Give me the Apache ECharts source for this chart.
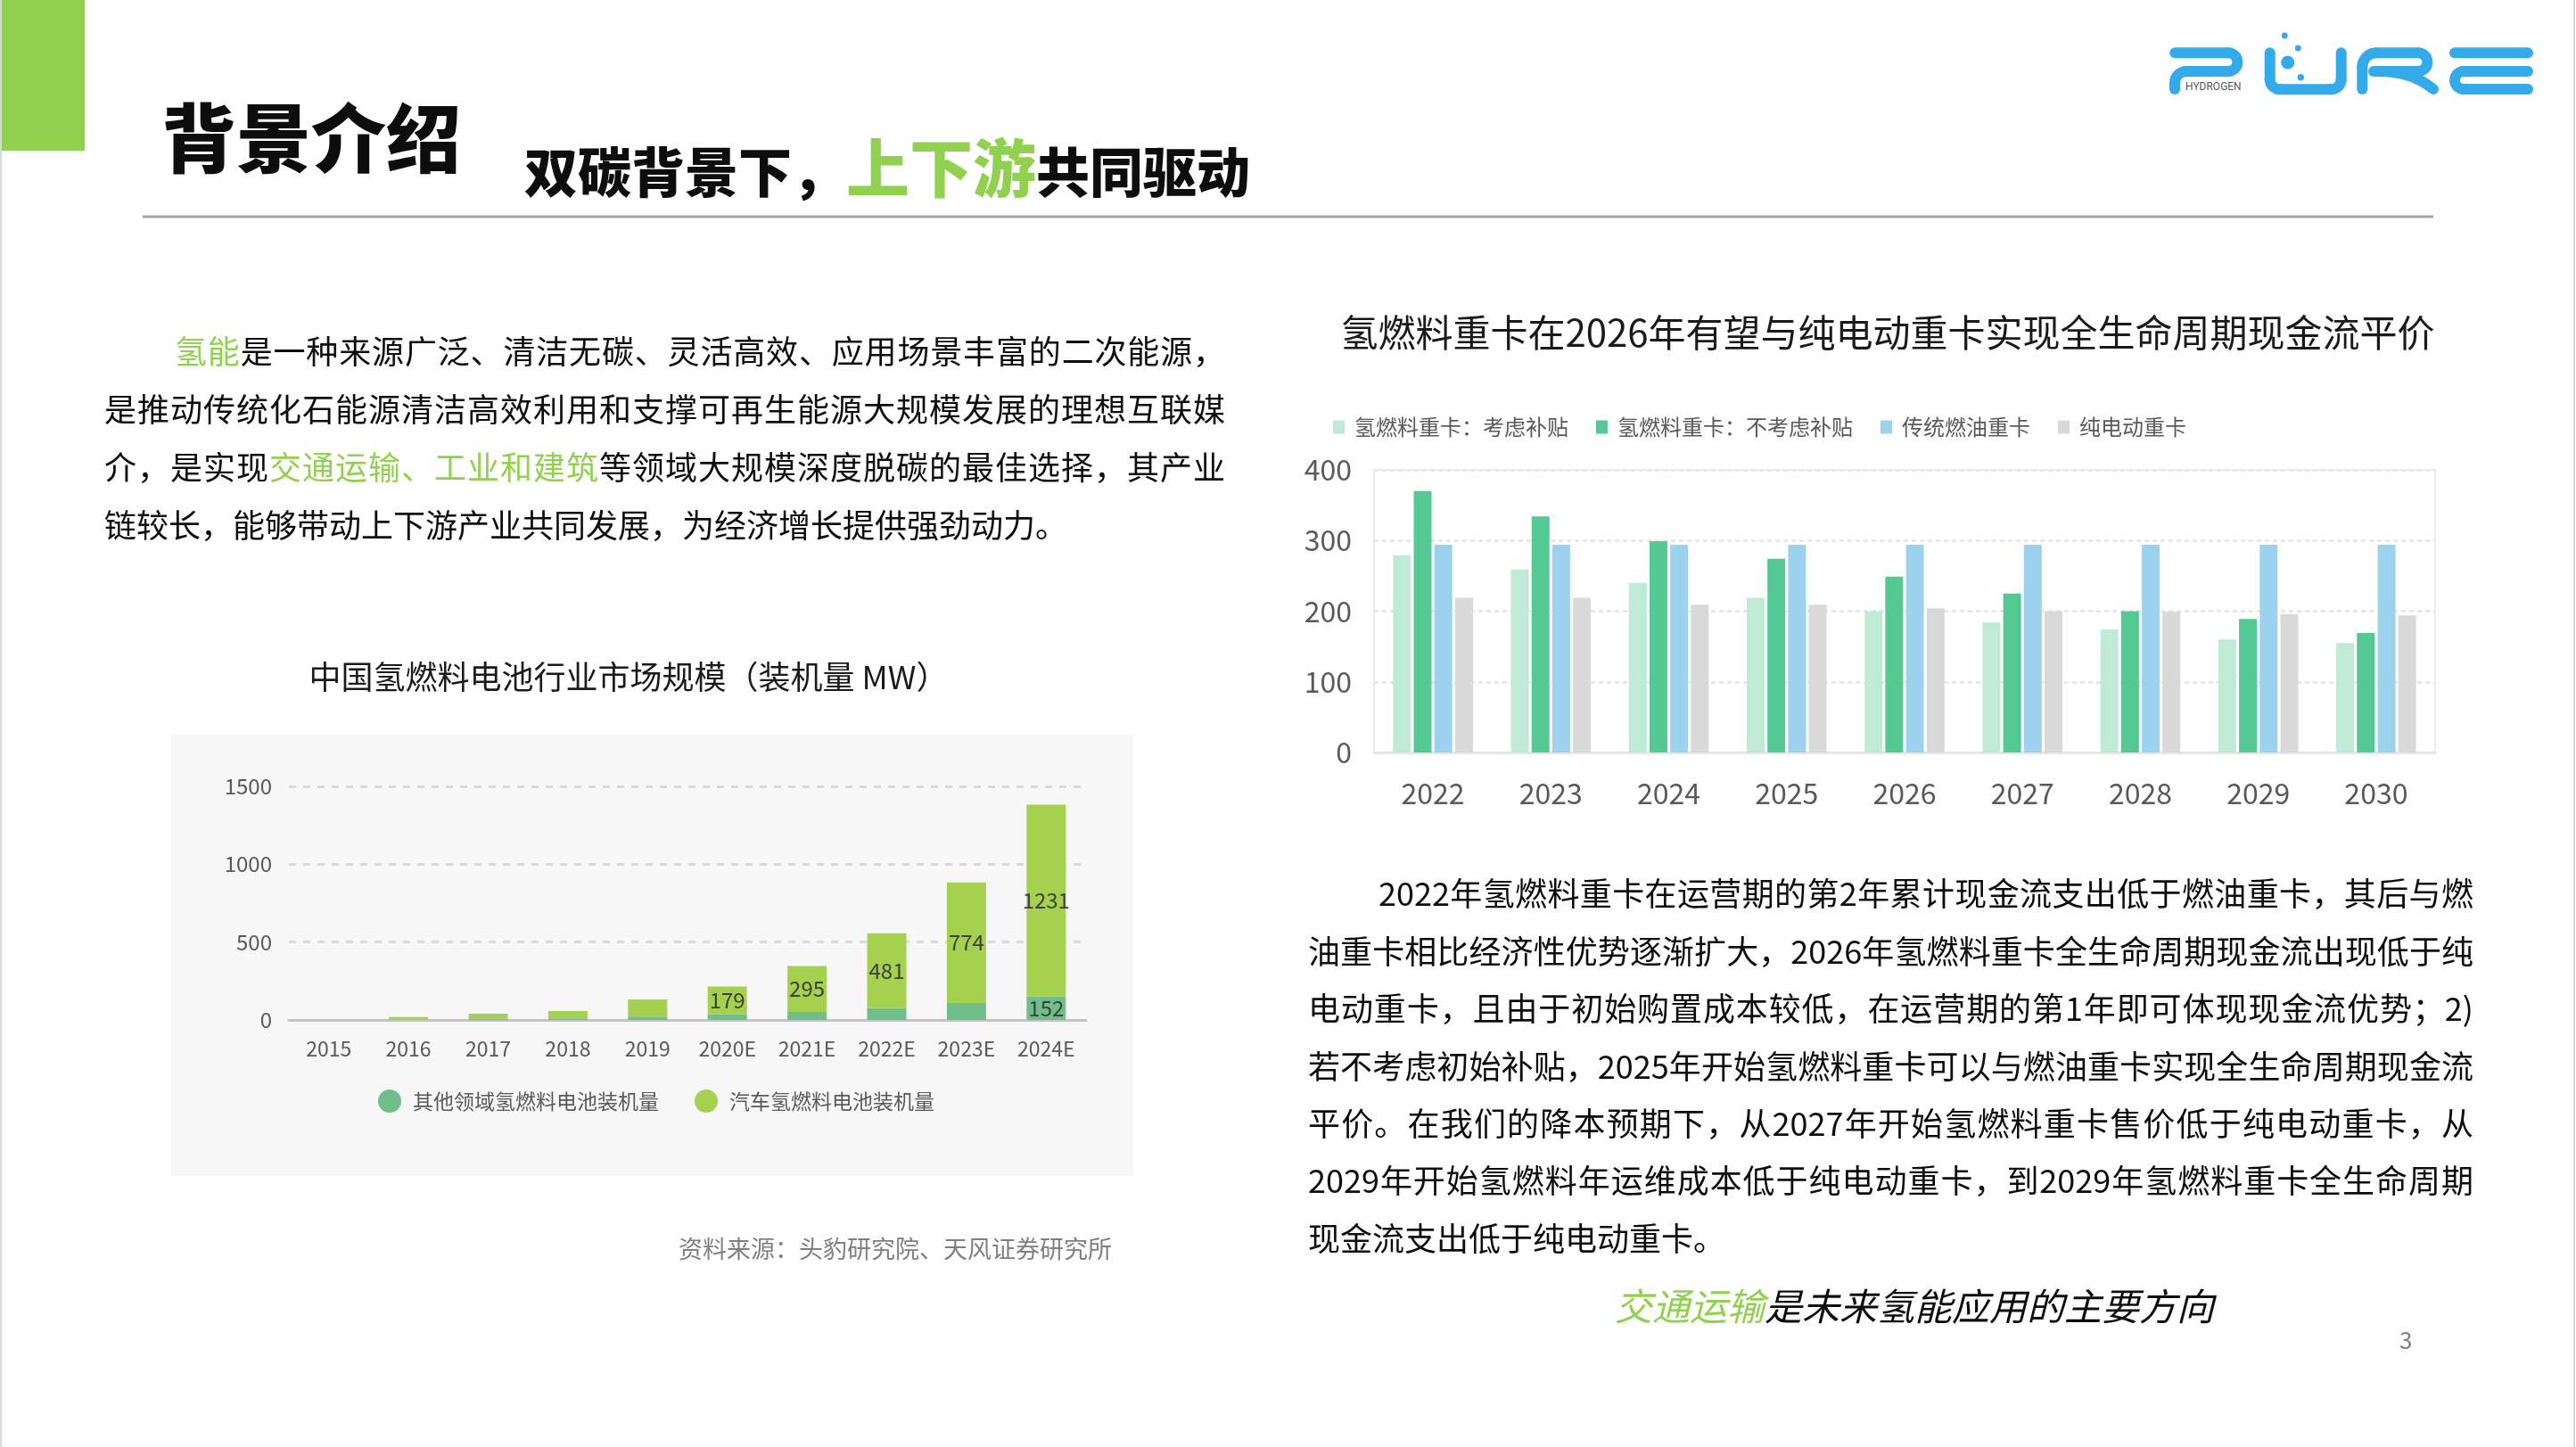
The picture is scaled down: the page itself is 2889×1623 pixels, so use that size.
<!DOCTYPE html>
<html>
<head>
<meta charset="utf-8">
<script src="https://cdn.jsdelivr.net/npm/echarts@6/dist/echarts.min.js"></script>
<style>
    html, body { margin: 0; padding: 0; background: #fff; }
    body { width: 2889px; height: 1623px; position: relative; overflow: hidden;
           font-family: "Noto Sans CJK SC", "Microsoft YaHei", sans-serif; color: #0d0d0d; }
    #main { position: absolute; left: 0; top: 0; width: 2889px; height: 1623px; }
    .t { position: absolute; white-space: nowrap; }
    .g { color: #92d050; }
    .para div { position: absolute; white-space: nowrap; text-align: justify; text-align-last: justify; }
    .para div.last { text-align-last: left; }
    #pl div { left: 117px; width: 1257px; font-size: 36px; line-height: 65px; }
    #pr div { left: 1467px; width: 1307px; font-size: 36px; line-height: 65px; }
    .edge { position: absolute; top: 0; width: 2px; height: 1623px; background: #d9d9d9; }
</style>
</head>
<body>
<div id="main"></div>
<div class="edge" style="left:0"></div>
<div class="edge" style="left:2886px"></div>

<!-- 页眉 -->
<div class="t" style="left:181px;top:109px;font-size:84px;line-height:84px;font-weight:900;">背景介绍</div>
<div class="t" style="left:588px;top:160px;font-size:60px;line-height:60px;font-weight:900;">双碳背景下，</div>
<div class="t g" style="left:949px;top:149px;font-size:71px;line-height:71px;font-weight:900;">上下游</div>
<div class="t" style="left:1162px;top:160px;font-size:60px;line-height:60px;font-weight:900;">共同驱动</div>

<!-- 左侧文字 -->
<div class="para" id="pl">
    <div style="top:360px;padding-left:79px;width:1178px;"><span class="g">氢能</span>是一种来源广泛、清洁无碳、灵活高效、应用场景丰富的二次能源，</div>
    <div style="top:425px;">是推动传统化石能源清洁高效利用和支撑可再生能源大规模发展的理想互联媒</div>
    <div style="top:490px;">介，是实现<span class="g">交通运输、工业和建筑</span>等领域大规模深度脱碳的最佳选择，其产业</div>
    <div class="last" style="top:555px;">链较长，能够带动上下游产业共同发展，为经济增长提供强劲动力。</div>
</div>

<!-- 右侧文字 -->
<div class="para" id="pr">
    <div style="top:968px;padding-left:79px;width:1228px;">2022年氢燃料重卡在运营期的第2年累计现金流支出低于燃油重卡，其后与燃</div>
    <div style="top:1033px;">油重卡相比经济性优势逐渐扩大，2026年氢燃料重卡全生命周期现金流出现低于纯</div>
    <div style="top:1097px;">电动重卡，且由于初始购置成本较低，在运营期的第1年即可体现现金流优势；2)</div>
    <div style="top:1162px;">若不考虑初始补贴，2025年开始氢燃料重卡可以与燃油重卡实现全生命周期现金流</div>
    <div style="top:1226px;">平价。在我们的降本预期下，从2027年开始氢燃料重卡售价低于纯电动重卡，从</div>
    <div style="top:1290px;">2029年开始氢燃料年运维成本低于纯电动重卡，到2029年氢燃料重卡全生命周期</div>
    <div class="last" style="top:1355px;">现金流支出低于纯电动重卡。</div>
</div>

<div class="t" style="left:761px;top:1385px;font-size:27px;line-height:30px;color:#7f7f7f;">资料来源：头豹研究院、天风证券研究所</div>
<div class="t" style="left:1811px;top:1438px;font-size:42px;line-height:50px;font-style:italic;"><span class="g">交通运输</span>是未来氢能应用的主要方向</div>
<div class="t" style="left:2691px;top:1487px;font-size:26px;line-height:30px;color:#7f7f7f;">3</div>

<script>
//左图：中国氢燃料电池行业市场规模（装机量 MW）
var leftYears = ['2015', '2016', '2017', '2018', '2019', '2020E', '2021E', '2022E', '2023E', '2024E'];
var otherMW = [0, 2, 8, 10, 21, 36, 52, 76, 109, 152];      //其他领域
var carMW = [0, 17, 32, 47, 110, 179, 295, 481, 774, 1231];  //汽车
var otherLabelIdx = [9];
var carLabelIdx = [5, 6, 7, 8, 9];

//右图：重卡全生命周期现金流
var rightYears = ['2022', '2023', '2024', '2025', '2026', '2027', '2028', '2029', '2030'];
var h2Subsidy = [279, 259, 240, 219, 200, 184, 174, 160, 155];
var h2NoSubsidy = [370, 334, 299, 274, 249, 225, 200, 189, 169];
var dieselTruck = [294, 294, 294, 294, 294, 294, 294, 294, 294];
var electricTruck = [219, 219, 209, 209, 204, 200, 199, 196, 194];

var FONT = '"Noto Sans CJK SC", "Microsoft YaHei", sans-serif';
var LOGO = '#35aaeb';
var PI = Math.PI;

function withLabels(arr, idxs) {
    return arr.map(function (v, i) {
        return { value: v, label: { show: idxs.indexOf(i) >= 0 } };
    });
}
function plainNum(v) { return String(v); }

//logo 笔画
var strokeStyle = { fill: null, stroke: LOGO, lineWidth: 12, lineCap: 'round', lineJoin: 'round' };
function lg(x1, y1, x2, y2) {
    return { type: 'line', z: 10, shape: { x1: x1, y1: y1, x2: x2, y2: y2 }, style: strokeStyle };
}
function ar(cx, cy, r, s, e) {
    return { type: 'arc', z: 10, shape: { cx: cx, cy: cy, r: r, startAngle: s, endAngle: e, clockwise: true }, style: strokeStyle };
}
function dot(x, y, r) {
    return { type: 'circle', z: 10, shape: { cx: x, cy: y, r: r }, style: { fill: LOGO } };
}

var logoParts = [
    //P
    lg(2439.3, 59.3, 2499, 59.3), ar(2499, 69.65, 10.35, -PI / 2, PI / 2), lg(2499, 80, 2452, 80),
    ar(2452, 93, 13, PI, PI * 1.5), lg(2439, 93, 2439, 100),
    //U
    lg(2545.7, 59.3, 2545.7, 89), ar(2557, 89, 11.3, PI / 2, PI), lg(2557, 100.3, 2614.4, 100.3),
    ar(2614.4, 89, 11.3, 0, PI / 2), lg(2625.7, 89, 2625.7, 59.3),
    //R
    lg(2649.3, 100, 2649.3, 75), ar(2665, 75, 15.7, PI, PI * 1.5), lg(2665, 59.3, 2712, 59.3),
    ar(2712, 69.65, 10.35, -PI / 2, PI / 2), lg(2712, 80, 2662, 80),
    { type: 'bezierCurve', z: 10, shape: { x1: 2668, y1: 80, cpx1: 2705, cpy1: 80, x2: 2729, y2: 100 }, style: strokeStyle },
    //E
    lg(2753, 59.3, 2835, 59.3), lg(2835, 80, 2763, 80), ar(2763, 90, 10, PI / 2, PI * 1.5), lg(2763, 100, 2835, 100),
    //气泡
    dot(2562.3, 40, 3.4), dot(2577.3, 54, 3.4), dot(2565.7, 70, 7.6), dot(2580.3, 86.7, 3.7),
    {
        type: 'text', z: 11, x: 2451, y: 98,
        style: { text: 'HYDROGEN', fontSize: 12, fontFamily: 'Roboto, sans-serif', fill: '#555', align: 'left', verticalAlign: 'middle' }
    }
];

var myChart = echarts.init(document.getElementById('main'), null, { renderer: 'canvas' });

var option = {
    backgroundColor: 'transparent',
    textStyle: { fontFamily: FONT },
    animation: false,
    graphic: [
        { type: 'rect', z: -10, shape: { x: 0, y: 0, width: 95, height: 169 }, style: { fill: '#92d050' } },
        { type: 'line', z: -10, shape: { x1: 160, y1: 243, x2: 2729, y2: 243 }, style: { stroke: '#a6a6a6', lineWidth: 3 } },
        //左图背景
        { type: 'rect', z: -10, shape: { x: 192, y: 824, width: 1079, height: 495 }, style: { fill: '#f7f7f7' } },
        {
            type: 'text', z: 10, x: 705, y: 759,
            style: { text: '中国氢燃料电池行业市场规模（装机量 MW）', fontSize: 36, fontFamily: FONT, fill: '#1a1a1a', align: 'center', verticalAlign: 'middle' }
        },
        {
            type: 'text', z: 10, x: 2117, y: 373,
            style: { text: '氢燃料重卡在2026年有望与纯电动重卡实现全生命周期现金流平价', fontSize: 42, fontFamily: FONT, fill: '#1a1a1a', align: 'center', verticalAlign: 'middle' }
        }
    ].concat(logoParts),
    legend: [
        {
            left: 419, top: 1217,
            icon: 'circle', itemWidth: 26, itemHeight: 26, itemGap: 40,
            textStyle: { fontSize: 23, color: '#595959', padding: [0, 0, 0, 8] },
            data: ['其他领域氢燃料电池装机量', '汽车氢燃料电池装机量']
        },
        {
            left: 1490, top: 462,
            icon: 'rect', itemWidth: 13, itemHeight: 15, itemGap: 31,
            textStyle: { fontSize: 24, color: '#595959', padding: [0, 0, 0, 6] },
            data: ['氢燃料重卡：考虑补贴', '氢燃料重卡：不考虑补贴', '传统燃油重卡', '纯电动重卡']
        }
    ],
    grid: [
        { left: 324, top: 882, width: 894, height: 262 },
        { left: 1541, top: 527, width: 1190, height: 317, show: true, borderColor: '#ececec', borderWidth: 2, backgroundColor: 'transparent' }
    ],
    xAxis: [
        {
            gridIndex: 0, type: 'category', data: leftYears,
            axisLine: { lineStyle: { color: '#c4c4c4', width: 3 } },
            axisTick: { alignWithLabel: true, length: 10, lineStyle: { color: '#c4c4c4', width: 2 } },
            axisLabel: { fontSize: 23, color: '#595959', margin: 21 }
        },
        {
            gridIndex: 1, type: 'category', data: rightYears,
            axisLine: { lineStyle: { color: '#e6e6e6', width: 3 } },
            axisTick: { show: false },
            axisLabel: { fontSize: 32, color: '#595959', margin: 30 }
        }
    ],
    yAxis: [
        {
            gridIndex: 0, type: 'value', min: 0, max: 1500, interval: 500,
            axisLine: { show: false }, axisTick: { show: false },
            axisLabel: { fontSize: 24, color: '#595959', margin: 19, formatter: plainNum },
            splitLine: { lineStyle: { color: '#d9d9d9', type: [8, 8], width: 3 } }
        },
        {
            gridIndex: 1, type: 'value', min: 0, max: 400, interval: 100,
            axisLine: { show: false }, axisTick: { show: false },
            axisLabel: { fontSize: 32, color: '#595959', margin: 25, formatter: plainNum },
            splitLine: { lineStyle: { color: '#e8e8e8', type: [5, 4], width: 3 } }
        }
    ],
    series: [
        {
            name: '其他领域氢燃料电池装机量', type: 'bar', stack: 'mw',
            xAxisIndex: 0, yAxisIndex: 0, barWidth: 44,
            itemStyle: { color: '#70bf8b' },
            label: { position: 'inside', fontSize: 24, color: '#404040' },
            data: withLabels(otherMW, otherLabelIdx)
        },
        {
            name: '汽车氢燃料电池装机量', type: 'bar', stack: 'mw',
            xAxisIndex: 0, yAxisIndex: 0, barWidth: 44,
            itemStyle: { color: '#a4d14e' },
            label: { position: 'inside', fontSize: 24, color: '#404040' },
            data: withLabels(carMW, carLabelIdx)
        },
        {
            name: '氢燃料重卡：考虑补贴', type: 'bar', xAxisIndex: 1, yAxisIndex: 1,
            barWidth: 20, barGap: '16%', itemStyle: { color: '#bfead5' }, data: h2Subsidy
        },
        {
            name: '氢燃料重卡：不考虑补贴', type: 'bar', xAxisIndex: 1, yAxisIndex: 1,
            barWidth: 20, barGap: '16%', itemStyle: { color: '#55c994' }, data: h2NoSubsidy
        },
        {
            name: '传统燃油重卡', type: 'bar', xAxisIndex: 1, yAxisIndex: 1,
            barWidth: 20, barGap: '16%', itemStyle: { color: '#9dd2ee' }, data: dieselTruck
        },
        {
            name: '纯电动重卡', type: 'bar', xAxisIndex: 1, yAxisIndex: 1,
            barWidth: 20, barGap: '16%', itemStyle: { color: '#d9d9d9' }, data: electricTruck
        }
    ]
};

myChart.setOption(option);
</script>
</body>
</html>
